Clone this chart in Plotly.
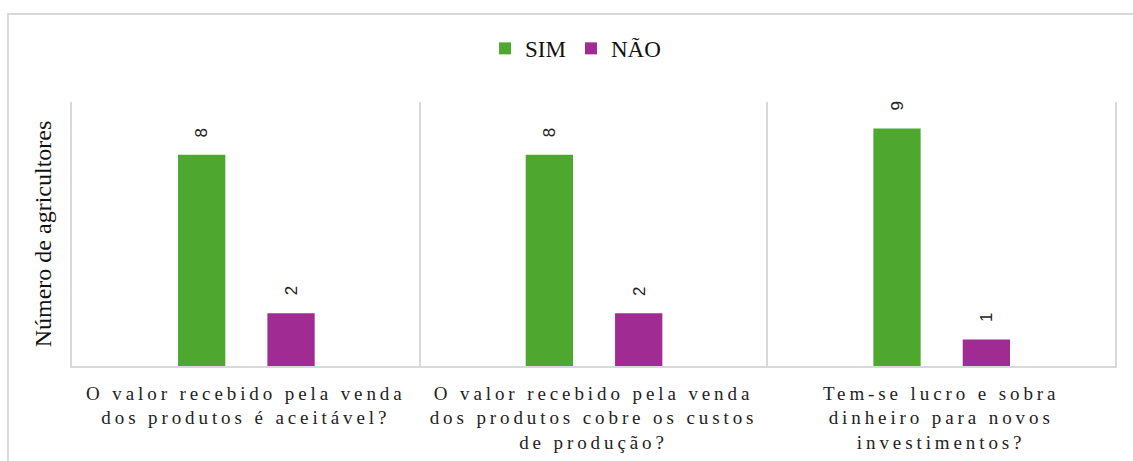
import plotly.graph_objects as go

categories = [
    "O valor recebido pela venda<br>dos produtos é aceitável?",
    "O valor recebido pela venda<br>dos produtos cobre os custos<br>de produção?",
    "Tem-se lucro e sobra<br>dinheiro para novos<br>investimentos?",
]
sim_values = [8, 8, 9]
nao_values = [2, 2, 1]

GREEN = "#4EA72E"
PURPLE = "#A02B93"
GRID = "#d9d9d9"
SERIF = "Liberation Serif, Times New Roman, serif"

BAR_W = 0.136
SIM_OFF = -0.195
NAO_OFF = 0.062

fig = go.Figure()
fig.add_trace(go.Bar(name="SIM", x=categories, y=sim_values, marker_color=GREEN,
                     width=BAR_W, offset=SIM_OFF, marker_line_width=0))
fig.add_trace(go.Bar(name="NÃO", x=categories, y=nao_values, marker_color=PURPLE,
                     width=BAR_W, offset=NAO_OFF, marker_line_width=0))

for i, (s, n) in enumerate(zip(sim_values, nao_values)):
    for val, off in ((s, SIM_OFF), (n, NAO_OFF)):
        fig.add_annotation(x=i + off + BAR_W / 2, y=val, xref="x", yref="y",
                           text=str(val), showarrow=False, textangle=-90,
                           yanchor="middle", yshift=22,
                           font=dict(family="Liberation Sans, Arial, sans-serif", size=17, color="#222"))

fig.add_shape(type="rect", xref="paper", yref="paper", x0=-0.0614, x1=1.2, y0=-0.6, y1=1.333,
              line=dict(color=GRID, width=2), fillcolor="rgba(0,0,0,0)", layer="below")

fig.update_layout(
    width=1133, height=461,
    margin=dict(l=72, r=18, t=102, b=95, autoexpand=False),
    paper_bgcolor="white", plot_bgcolor="white",
    barmode="overlay",
    showlegend=True,
    legend=dict(orientation="h", xref="container", yref="container",
                x=0.508, xanchor="center", y=0.895, yanchor="middle",
                font=dict(family=SERIF, size=23, color="#111"), itemwidth=30,
                traceorder="normal"),
    xaxis=dict(type="category", tickson="boundaries", showgrid=True, gridcolor=GRID, gridwidth=1.5,
               showline=True, linecolor=GRID, linewidth=1.5, ticks="", ticklen=0,
               ticklabelstandoff=9, automargin=False,
               tickfont=dict(family=SERIF, size=19, color="#222"), tickangle=0,
               range=[-0.5, 2.5], fixedrange=True),
    yaxis=dict(range=[0, 10], showgrid=False, zeroline=False, showticklabels=False, ticks="",
               showline=True, linecolor=GRID, linewidth=1.5, mirror=True, automargin=False,
               title=dict(text="Número de agricultores", font=dict(family=SERIF, size=24, color="#111"),
                          standoff=12)),
)

post = """
document.body.style.margin = '0';
var gd = document.getElementsByClassName('plotly-graph-div')[0];
function sp(){
  gd.querySelectorAll('.xtick text, .xtick tspan').forEach(function(t){t.setAttribute('letter-spacing','3.9px');});
}
sp();
gd.on('plotly_afterplot', sp);
"""

fig.write_html("out.html", post_script=post, config={"displayModeBar": False})
